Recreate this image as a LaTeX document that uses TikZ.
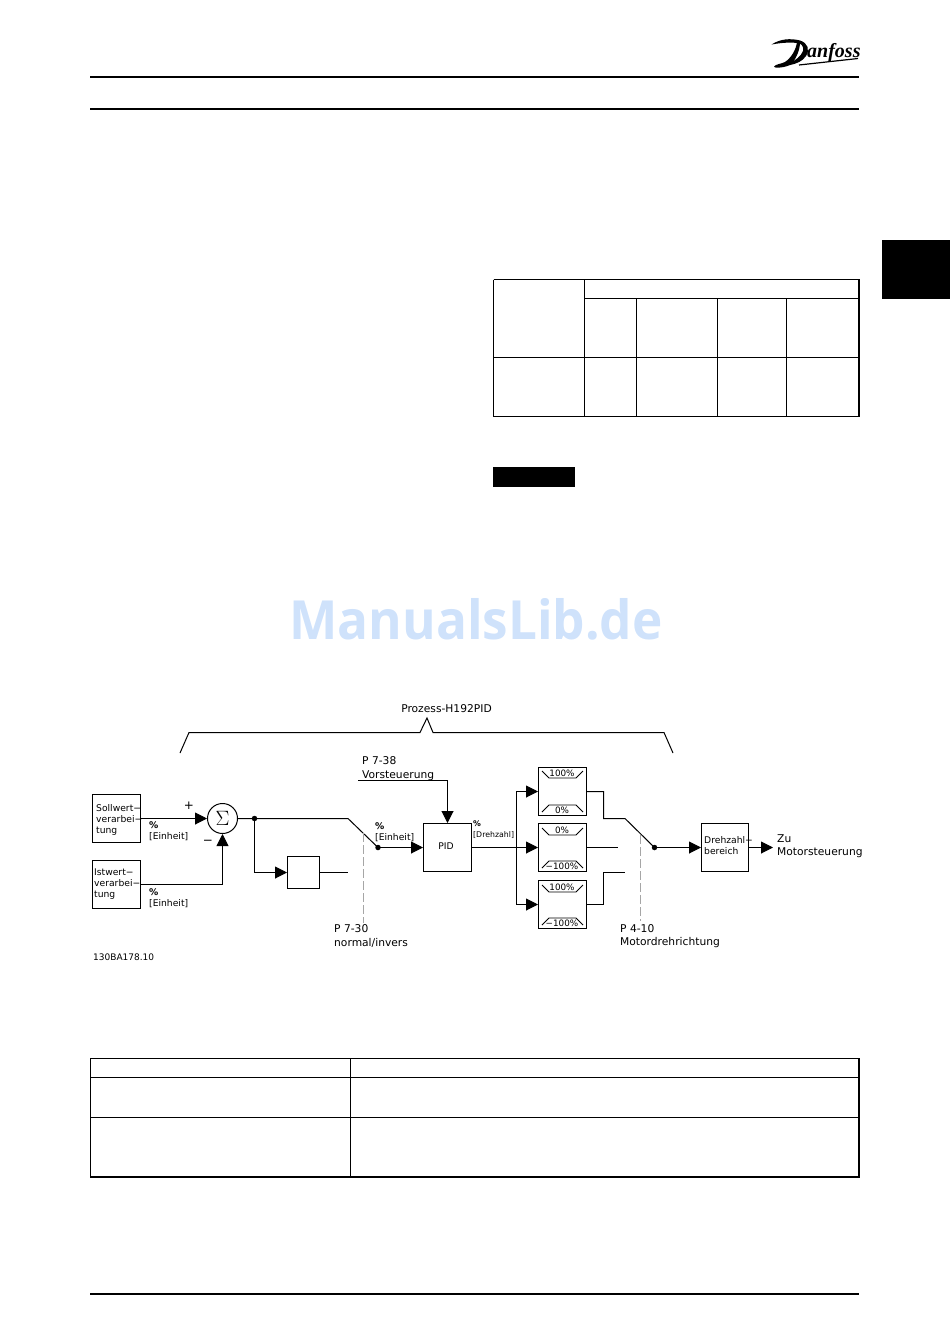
\documentclass[tikz,border=0pt]{standalone}
\usepackage{fontspec}
\setmainfont{DejaVu Sans}
\newfontfamily\logofont{Liberation Serif}
\newfontfamily\wmfont{Open Sans}
\usetikzlibrary{arrows.meta}
\definecolor{wmblue}{HTML}{CFE2FB}
\tikzset{
  wire/.style={line width=1pt},
  flow/.style={wire,-{Triangle[length=12pt,width=12pt]}},
  blockbox/.style={draw,line width=1pt,fill=white,inner sep=0pt,rectangle},
  rule/.style={line width=2pt},
  grid/.style={line width=1pt},
  heavy/.style={line width=2pt},
  lab/.style={inner sep=0pt,font=\fontsize{10.7}{13.5}\selectfont,align=left},
  small/.style={inner sep=0pt,font=\fontsize{9.2}{11}\selectfont,align=left},
  limtext/.style={inner sep=0pt,font=\fontsize{8.8}{10}\selectfont},
  dashline/.style={line width=1.4pt,gray!70,dash pattern=on 9pt off 3pt},
  dot/.style={circle,fill=black,inner sep=0pt,minimum size=5.5pt},
}
\begin{document}
\begin{tikzpicture}[x=1pt,y=-1pt]
\useasboundingbox (0,0) rectangle (950,1344);
% page furniture
\draw[rule] (90,77) -- (859,77);
\draw[rule] (90,109) -- (859,109);
\draw[rule] (90,1294) -- (859,1294);
\fill (882,240) rectangle (950,299);
\fill (493,467) rectangle (575,487);
% logo
\node[inner sep=0pt,anchor=base west,font=\logofont\bfseries\itshape\fontsize{20}{21}\selectfont] (logo) at (807,57.5) {anfoss};
\fill (771.5,44.5) .. controls (780,39) and (790,38) .. (800,40.5) .. controls (808,43) and (810,50) .. (806,56) .. controls (803,61) and (796,64) .. (790,65) -- (790,63) .. controls (796,60) and (801,56) .. (803,51) .. controls (804,46) and (801,43) .. (797,43) .. controls (789,42) and (780,43) .. (771.5,44.5) -- cycle;
\fill (797,42) .. controls (796,50) and (791,58) .. (785,62) .. controls (781,64) and (776,64) .. (774,66.5) .. controls (773,68) and (782,68.5) .. (790,65) .. controls (796,60) and (800,50) .. (800,42) -- cycle;
\draw[line width=1.2pt] (799,65) -- (858,58.5);
% top table
\draw[grid] (493.5,279.5) -- (859,279.5) (493.5,279.5) -- (493.5,416.5) -- (859,416.5);
\draw[heavy] (859,279) -- (859,417);
\draw[grid] (584.5,279.5) -- (584.5,416.5);
\draw[grid] (584.5,298.5) -- (859,298.5);
\draw[grid] (493.5,357.5) -- (859,357.5);
\draw[grid] (636.5,298.5) -- (636.5,416.5);
\draw[grid] (717.5,298.5) -- (717.5,416.5);
\draw[grid] (786.5,298.5) -- (786.5,416.5);
% bottom table
\draw[grid] (90.5,1177) -- (90.5,1058.5) -- (859,1058.5);
\draw[heavy] (859,1058) -- (859,1178);
\draw[heavy] (90,1177) -- (860,1177);
\draw[grid] (350.5,1058.5) -- (350.5,1177);
\draw[grid] (90.5,1077.5) -- (859,1077.5);
\draw[grid] (90.5,1117.5) -- (859,1117.5);
% watermark
\node[inner sep=0pt,xscale=0.95,font=\wmfont\bfseries\fontsize{54}{56}\selectfont,text=wmblue] (wm) at (476,619) {ManualsLib.de};
% blocks
\node[blockbox,minimum width=48pt,minimum height=48pt] (soll) at (116.5,818.5) {};
\node[blockbox,minimum width=48pt,minimum height=48pt] (ist) at (116.5,884.5) {};
\node[blockbox,circle,minimum size=30pt] (sum) at (222.5,818.5) {\fontsize{20}{20}\selectfont$\Sigma$};
\node[blockbox,minimum width=48pt,minimum height=48pt] (pid) at (447.5,847.5) {};
\node[blockbox,minimum width=32pt,minimum height=32pt] (aux) at (303.5,872.5) {};
\node[blockbox,minimum width=48pt,minimum height=48pt] (limA) at (562.5,791.5) {};
\node[blockbox,minimum width=48pt,minimum height=48pt] (limB) at (562.5,847.5) {};
\node[blockbox,minimum width=48pt,minimum height=48pt] (limC) at (562.5,904.5) {};
\node[blockbox,minimum width=47pt,minimum height=48pt] (range) at (725,847.5) {};
% block texts
\node[small,anchor=west] (t1) at (96,820) {Sollwert\rlap{−}\\verarbei\rlap{−}\\tung};
\node[small,anchor=west] (t2) at (94,884) {Istwert\rlap{−}\\verarbei\rlap{−}\\tung};
\node[small] (t3) at (446,846) {PID};
\node[small,anchor=west] (t4) at (704,845.5) {Drehzahl\rlap{−}\\bereich};
% brace
\coordinate (brL) at (180,753);
\coordinate (brR) at (673,753);
\draw[wire] (brL) -- (189,732.5) -- (420,732.5) -- (427,718) -- (433,732.5) -- (664,732.5) -- (brR);
\node[lab] (title) at (446.5,708.5) {Prozess-H192PID};
% junctions
\node[dot] (j1) at (254.5,818.5) {};
\node[dot] (sw1) at (378,847.5) {};
\node[dot] (sw2) at (654.5,847.5) {};
\coordinate (auxEnd) at (348,872.5);
\coordinate (sw1top) at (348,818.5);
\coordinate (ffStart) at (358,780.5);
\coordinate (dashA1) at (363.5,833);
\coordinate (dashA2) at (363.5,923);
\coordinate (dashB1) at (640.5,835);
\coordinate (dashB2) at (640.5,921);
\coordinate (fork) at (516.5,847.5);
\coordinate (zu) at (773,847.5);
\coordinate (sw2top) at (625,818.5);
\coordinate (sw2mid) at (618,847.5);
\coordinate (sw2low) at (625,872.5);
% connectors
\draw[flow] (soll.east |- sum.west) -- (sum.west);
\draw[flow] (ist.east) -- (ist.east -| sum.south) -- (sum.south);
\draw[wire] (sum.east) -- (j1.center) -- (sw1top) -- (sw1.center);
\draw[flow] (j1.center) -- (j1.center |- aux.west) -- (aux.west);
\draw[wire] (aux.east) -- (auxEnd);
\draw[flow] (sw1.center) -- (pid.west);
\draw[flow] (ffStart) -- (ffStart -| pid.north) -- (pid.north);
\draw[dashline] (dashA1) -- (dashA2);
\draw[dashline] (dashB1) -- (dashB2);
\draw[flow] (pid.east) -- (limB.west);
\draw[flow] (fork) -- (fork |- limA.west) -- (limA.west);
\draw[flow] (fork) -- (fork |- limC.west) -- (limC.west);
\draw[wire] (limA.east) -- (603.5,791.5) -- (603.5,818.5) -- (sw2top) -- (sw2.center);
\draw[wire] (limB.east) -- (sw2mid);
\draw[wire] (limC.east) -- (603.5,904.5) -- (603.5,872.5) -- (sw2low);
\draw[flow] (sw2.center) -- (range.west);
\draw[flow] (range.east) -- (zu);
% limiter marks
\foreach \yt/\yb/\tt/\tb in {771/812/100\%/0\%,828/868/0\%/−100\%,885/925/100\%/−100\%}{
  \draw[line width=0.9pt] (542,\yt) -- (549,\yt+7) -- (576,\yt+7) -- (583,\yt);
  \draw[line width=0.9pt] (542,\yb) -- (549,\yb-7) -- (576,\yb-7) -- (583,\yb);
  \node[limtext] at (562,\yt+2) {\tt};
  \node[limtext] at (562,\yb-2) {\tb};
}
% labels
\node[inner sep=0pt,font=\fontsize{12}{12}\selectfont] (plus) at (189,806) {+};
\node[inner sep=0pt,font=\fontsize{12}{12}\selectfont] (minus) at (208,842) {−};
\node[small,anchor=north west] (l1) at (149,821) {\textbf{\%}\\{[}Einheit{]}};
\node[small,anchor=north west] (l2) at (149,888) {\textbf{\%}\\{[}Einheit{]}};
\node[small,anchor=north west] (l3) at (375,822) {\textbf{\%}\\{[}Einheit{]}};
\node[inner sep=0pt,align=left,anchor=north west,font=\fontsize{7.8}{10}\selectfont] (l4) at (473,821) {\textbf{\%}\\{[}Drehzahl{]}};
\node[lab,anchor=west] (p738) at (362,768.5) {P 7-38\\Vorsteuerung};
\node[lab,anchor=west] (p730) at (334,936) {P 7-30\\normal/invers};
\node[lab,anchor=west] (p410) at (620,936) {P 4-10\\Motordrehrichtung};
\node[lab,anchor=west] (zutext) at (777,846) {Zu\\Motorsteuerung};
\node[inner sep=0pt,anchor=west,font=\fontsize{9}{11}\selectfont] (code) at (93,957.5) {130BA178.10};
\end{tikzpicture}
\end{document}
